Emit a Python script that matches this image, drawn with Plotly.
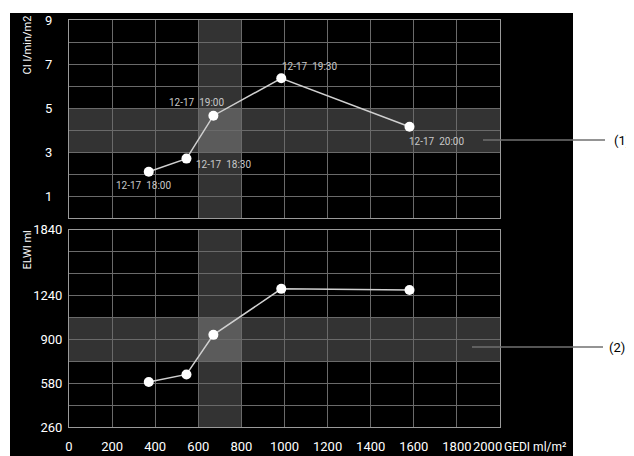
import numpy as np
import plotly.graph_objects as go

# page is drawn with an 8px body margin, so the figure is sized/offset to compensate
OFF = 8
W, H = 634 - OFF, 456 - OFF

# ---- data ----
times = ["12-17  18:00", "12-17  18:30", "12-17  19:00", "12-17  19:30", "12-17  20:00"]
gedi = [370, 545, 670, 985, 1580]          # GEDI ml/m2
ci = [2.1, 2.7, 4.65, 6.35, 4.15]          # CI l/min/m2
elwi = [590, 645, 935, 1300, 1290]         # ELWI ml

x_ticks = [0, 200, 400, 600, 800, 1000, 1200, 1400, 1600, 1800, 2000]
ci_ticks = [1, 3, 5, 7, 9]
elwi_tick_vals = [260, 580, 900, 1240, 1840]     # labels on the ELWI axis
elwi_tick_pos = [0, 2, 4, 6, 9]                  # their grid positions

gedi_band = [600, 800]
ci_band = [3, 5]
elwi_band = [740, 1070]

def elwi_pos(v):
    return np.interp(v, elwi_tick_vals, elwi_tick_pos)

def px(x):
    return (x - OFF) / W

def py(y):
    return 1 - (y - OFF) / H

fig = go.Figure()

line_style = dict(color="#d0d0d0", width=1.5)
marker_style = dict(color="white", size=10)

fig.add_trace(go.Scatter(x=gedi, y=ci, mode="lines+markers", line=line_style,
                         marker=marker_style, xaxis="x", yaxis="y", showlegend=False))
fig.add_trace(go.Scatter(x=gedi, y=elwi_pos(elwi), mode="lines+markers", line=line_style,
                         marker=marker_style, xaxis="x2", yaxis="y2", showlegend=False))

xdom = [px(69), px(500)]
grid = "#6a6a6a"
frame = "#9a9a9a"
tickfont = dict(family="Roboto", size=13, color="white")

ax_common = dict(range=[0, 2000], dtick=200, tick0=0, showgrid=True, gridcolor=grid,
                 gridwidth=1, zeroline=False, showline=True, linecolor=frame, mirror=True,
                 linewidth=1, domain=xdom, ticks="", automargin=False)

fig.update_layout(
    width=W, height=H,
    margin=dict(l=0, r=0, t=0, b=0, autoexpand=False),
    paper_bgcolor="white", plot_bgcolor="black",
    font=dict(family="Roboto"),
    xaxis=dict(**ax_common, anchor="y", showticklabels=False),
    yaxis=dict(domain=[py(218), py(20)], range=[0, 9], tickvals=list(range(10)),
               ticktext=[str(v) if v in ci_ticks else "" for v in range(10)],
               showgrid=True, gridcolor=grid, zeroline=False, showline=True,
               linecolor=frame, mirror=True, ticks="", tickfont=tickfont,
               ticklabelstandoff=13, anchor="x", automargin=False),
    xaxis2=dict(**ax_common, anchor="y2", tickvals=x_ticks,
                ticktext=[str(v) if v != x_ticks[-1] else "" for v in x_ticks],
                tickfont=tickfont, ticklabelstandoff=7),
    yaxis2=dict(domain=[py(427.3), py(229.5)], range=[0, 9], tickvals=list(range(10)),
                ticktext=[str(elwi_tick_vals[elwi_tick_pos.index(p)]) if p in elwi_tick_pos else ""
                          for p in range(10)],
                showgrid=True, gridcolor=grid, zeroline=False, showline=True,
                linecolor=frame, mirror=True, ticks="", tickfont=tickfont,
                ticklabelstandoff=3, anchor="x2", automargin=False),
)

band = "rgba(255,255,255,0.2)"
shapes = [
    # black panel background
    dict(type="rect", xref="paper", yref="paper", x0=px(10), x1=px(573), y0=-0.05, y1=py(13),
         fillcolor="black", line_width=0, layer="below"),
    dict(type="rect", xref="x", yref="y", x0=gedi_band[0], x1=gedi_band[1], y0=0, y1=9,
         fillcolor=band, line_width=0, layer="below"),
    dict(type="rect", xref="x", yref="y", x0=0, x1=2000, y0=ci_band[0], y1=ci_band[1],
         fillcolor=band, line_width=0, layer="below"),
    dict(type="rect", xref="x2", yref="y2", x0=gedi_band[0], x1=gedi_band[1], y0=0, y1=9,
         fillcolor=band, line_width=0, layer="below"),
    dict(type="rect", xref="x2", yref="y2", x0=0, x1=2000,
         y0=float(elwi_pos(elwi_band[0])), y1=float(elwi_pos(elwi_band[1])),
         fillcolor=band, line_width=0, layer="below"),
    # callout lines
    dict(type="line", xref="paper", yref="paper", x0=px(483), x1=px(605), y0=py(140), y1=py(140),
         line=dict(color="#707070", width=1.5), layer="above"),
    dict(type="line", xref="paper", yref="paper", x0=px(472), x1=px(603), y0=py(347), y1=py(347),
         line=dict(color="#707070", width=1.5), layer="above"),
]
fig.update_layout(shapes=shapes)

lab_font = dict(family="Roboto", size=10, color="#c8c8c8")
label_place = [
    dict(xanchor="center", yanchor="middle", xshift=-5, yshift=-14),
    dict(xanchor="left", yanchor="middle", xshift=9, yshift=-6),
    dict(xanchor="right", yanchor="middle", xshift=12, yshift=13),
    dict(xanchor="left", yanchor="middle", xshift=0, yshift=12),
    dict(xanchor="left", yanchor="middle", xshift=-1, yshift=-15),
]
annotations = []
for t, gx, cy, pl in zip(times, gedi, ci, label_place):
    annotations.append(dict(x=gx, y=cy, xref="x", yref="y", text=t, showarrow=False,
                            font=lab_font, borderpad=0, **pl))

annotations += [
    # last x tick label, nudged left so it sits next to the axis title
    dict(x=x_ticks[-1], y=py(446.5), xref="x2", yref="paper", text=str(x_ticks[-1]),
         showarrow=False, xanchor="right", yanchor="middle", xshift=3, borderpad=0,
         font=tickfont),
    dict(x=px(27), y=py(14), xref="paper", yref="paper", text="CI l/min/m2", textangle=-90,
         showarrow=False, xanchor="center", yanchor="top",
         font=dict(family="Roboto", size=11, color="white")),
    dict(x=px(27), y=py(229), xref="paper", yref="paper", text="ELWI ml", textangle=-90,
         showarrow=False, xanchor="center", yanchor="top",
         font=dict(family="Roboto", size=11, color="white")),
    dict(x=px(503), y=py(446.5), xref="paper", yref="paper", text="GEDI ml/m²",
         showarrow=False, xanchor="left", yanchor="middle", borderpad=0,
         font=dict(family="Roboto", size=12, color="white")),
    dict(x=px(612), y=py(140), xref="paper", yref="paper", text="(1)",
         showarrow=False, xanchor="left", yanchor="middle",
         font=dict(family="Roboto", size=13, color="black")),
    dict(x=px(607), y=py(347), xref="paper", yref="paper", text="(2)",
         showarrow=False, xanchor="left", yanchor="middle",
         font=dict(family="Roboto", size=13, color="black")),
]
fig.update_layout(annotations=annotations)

fig.write_html("out.html")
